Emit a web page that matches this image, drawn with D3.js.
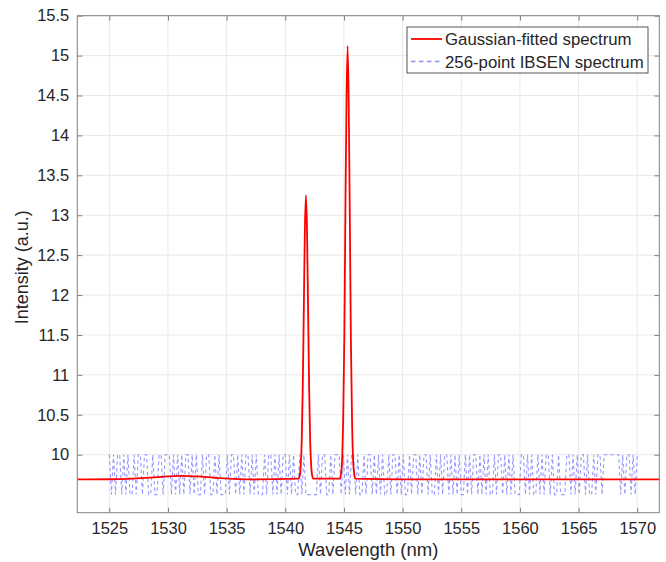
<!DOCTYPE html>
<html>
<head>
<meta charset="utf-8">
<script src="https://cdn.jsdelivr.net/npm/d3@7"></script>
<style>
  body { margin: 0; background: #fff; }
  text { font-family: "Liberation Sans", Arial, Helvetica, sans-serif; fill: #262626; }
</style>
</head>
<body>
<svg id="chart" width="666" height="562"></svg>
<script>
// Axis ranges and tick values
const xDomain = [1522.27, 1571.88];
const yDomain = [9.273, 15.5];
const xTicks = [1525, 1530, 1535, 1540, 1545, 1550, 1555, 1560, 1565, 1570];
const yTicks = [10, 10.5, 11, 11.5, 12, 12.5, 13, 13.5, 14, 14.5, 15, 15.5];

// Gaussian-fitted spectrum (wavelength in nm, intensity in a.u.)
const fitWavelength = [
  1522.27, 1525.0, 1527.0, 1528.5, 1530.0, 1531.2, 1532.5, 1534.0, 1535.5, 1537.0,
  1541.13, 1541.22, 1541.31, 1541.40, 1541.49, 1541.58, 1541.67, 1541.76,
  1541.85, 1541.94, 1542.03, 1542.12, 1542.21, 1542.30, 1542.39,
  1544.65, 1544.74, 1544.84, 1544.93, 1545.03, 1545.12, 1545.22, 1545.31,
  1545.40, 1545.50, 1545.59, 1545.69, 1545.78, 1545.88, 1545.97,
  1550.0, 1560.0, 1571.88
];
const fitIntensity = [
  9.690, 9.692, 9.700, 9.712, 9.728, 9.735, 9.727, 9.710, 9.697, 9.690,
  9.70, 9.73, 9.85, 10.17, 10.85, 11.85, 12.83, 13.25,
  12.83, 11.85, 10.85, 10.17, 9.85, 9.73, 9.70,
  9.70, 9.75, 9.93, 10.42, 11.45, 12.98, 14.48, 15.12,
  14.48, 12.98, 11.45, 10.42, 9.93, 9.75, 9.70,
  9.690, 9.690, 9.690
];

// 256-pixel IBSEN readout, 1525–1570 nm; each pixel is at a low or high level
const ibsenStart = 1525;
const ibsenEnd = 1570;
const ibsenLevels = [9.5, 10];
const ibsenBits = [
  1,0,1,0, 1,1,0,1, 0,1,0,0, 1,0,1,1, 0,1,1,0, 0,1,0,0, 1,1,0,1, 1,1,0,1,
  0,1,0,1, 0,1,1,0, 1,0,1,0, 0,1,0,1, 1,0,0,1, 0,1,0,0, 0,1,0,1, 1,0,1,0,
  1,0,1,1, 0,1,0,1, 0,0,0,1, 0,1,1,0, 1,0,1,0, 1,1,0,1, 0,1,0,0, 1,0,1,0,
  0,0,0,0, 0,1,0,1, 1,0,0,1, 0,1,1,1, 0,1,0,1, 0,1,1,0, 1,0,0,1, 0,1,1,0,
  1,0,1,0, 1,0,0,1, 0,1,1,0, 1,0,1,0, 0,1,0,1, 1,0,1,0, 1,1,0,1, 0,0,1,0,
  1,0,1,1, 0,1,0,1, 0,1,0,0, 1,0,1,0, 1,1,0,1, 0,1,0,1, 0,0,1,0, 1,1,0,1,
  0,1,0,1, 0,0,0,1, 1,0,1,0, 1,0,0,1, 0,1,0,1, 1,0,1,0, 0,1,0,0, 0,1,1,0,
  1,0,1,0, 1,1,0,1, 0,0,1,0, 1,1,0,1, 1,1,1,1, 1,1,1,0, 1,0,1,1, 0,1,0,1
];

const legendLabels = ["Gaussian-fitted spectrum", "256-point IBSEN spectrum"];

// Layout
const plot = { left: 77.3, right: 659.3, top: 15.7, bottom: 512.7 };
const svg = d3.select("#chart");

const x = d3.scaleLinear().domain(xDomain).range([plot.left, plot.right]);
const y = d3.scaleLinear().domain(yDomain).range([plot.bottom, plot.top]);

// Grid
const grid = svg.append("g").attr("stroke", "#e8e8e8").attr("stroke-width", 1);
grid.selectAll("line.gx").data(xTicks).join("line")
  .attr("x1", d => x(d)).attr("x2", d => x(d))
  .attr("y1", plot.top).attr("y2", plot.bottom);
grid.selectAll("line.gy").data(yTicks).join("line")
  .attr("x1", plot.left).attr("x2", plot.right)
  .attr("y1", d => y(d)).attr("y2", d => y(d));

// Clip region for data
svg.append("clipPath").attr("id", "plotclip").append("rect")
  .attr("x", plot.left).attr("y", plot.top)
  .attr("width", plot.right - plot.left).attr("height", plot.bottom - plot.top);

const dataG = svg.append("g").attr("clip-path", "url(#plotclip)");

// IBSEN series
const ibsenStep = (ibsenEnd - ibsenStart) / (ibsenBits.length - 1);
const ibsenData = ibsenBits.map((b, i) => [ibsenStart + i * ibsenStep, ibsenLevels[b]]);
dataG.append("path")
  .datum(ibsenData)
  .attr("fill", "none")
  .attr("stroke", "rgb(125,125,255)")
  .attr("stroke-opacity", 0.8)
  .attr("stroke-width", 1.1)
  .attr("stroke-dasharray", "3.5,3")
  .attr("d", d3.line().x(d => x(d[0])).y(d => y(d[1])));

// Fitted spectrum
const fitData = fitWavelength.map((w, i) => [w, fitIntensity[i]]);
dataG.append("path")
  .datum(fitData)
  .attr("fill", "none")
  .attr("stroke", "#ff0000")
  .attr("stroke-width", 1.8)
  .attr("stroke-linejoin", "round")
  .attr("d", d3.line().x(d => x(d[0])).y(d => y(d[1])).curve(d3.curveMonotoneX));

// Axes (ticks point inward, box on all sides)
const tickLen = 5;
const axisColor = "#808080";
const xAxisB = d3.axisBottom(x).tickValues(xTicks).tickSize(-tickLen).tickPadding(10).tickFormat(d3.format("d"));
const xAxisT = d3.axisTop(x).tickValues(xTicks).tickSize(-tickLen).tickFormat("");
const yFmt = d => (d % 1 === 0 ? String(d) : d.toFixed(1));
const yAxisL = d3.axisLeft(y).tickValues(yTicks).tickSize(-tickLen).tickPadding(8).tickFormat(yFmt);
const yAxisR = d3.axisRight(y).tickValues(yTicks).tickSize(-tickLen).tickFormat("");

function styleAxis(g) {
  g.select(".domain").remove();
  g.selectAll(".tick line").attr("stroke", axisColor);
  g.selectAll(".tick text").attr("font-size", 16.5).attr("fill", "#262626")
    .style("font-family", "'Liberation Sans', Arial, Helvetica, sans-serif");
}
svg.append("g").attr("transform", `translate(0,${plot.bottom})`).call(xAxisB).call(styleAxis);
svg.append("g").attr("transform", `translate(0,${plot.top})`).call(xAxisT).call(styleAxis);
svg.append("g").attr("transform", `translate(${plot.left},0)`).call(yAxisL).call(styleAxis);
svg.append("g").attr("transform", `translate(${plot.right},0)`).call(yAxisR).call(styleAxis);

svg.append("rect")
  .attr("x", plot.left).attr("y", plot.top)
  .attr("width", plot.right - plot.left).attr("height", plot.bottom - plot.top)
  .attr("fill", "none").attr("stroke", axisColor).attr("stroke-width", 1);

// Axis titles
svg.append("text")
  .attr("x", (plot.left + plot.right) / 2).attr("y", 556)
  .attr("text-anchor", "middle").attr("font-size", 18.5)
  .text("Wavelength (nm)");
svg.append("text")
  .attr("transform", `translate(28,${(plot.top + plot.bottom) / 2 + 3}) rotate(-90)`)
  .attr("text-anchor", "middle").attr("font-size", 18)
  .text("Intensity (a.u.)");

// Legend
const lg = svg.append("g").attr("transform", "translate(407,27)");
lg.append("rect").attr("width", 241).attr("height", 46)
  .attr("fill", "#fff").attr("stroke", "#555").attr("stroke-width", 1);
const legendStyles = [
  { stroke: "#ff0000", dash: null, width: 1.8, opacity: 1 },
  { stroke: "rgb(125,125,255)", dash: "4.5,3.5", width: 1.3, opacity: 0.85 }
];
legendLabels.forEach((label, i) => {
  const yy = 12 + i * 22.5;
  lg.append("line").attr("x1", 4).attr("x2", 35).attr("y1", yy).attr("y2", yy)
    .attr("stroke", legendStyles[i].stroke)
    .attr("stroke-width", legendStyles[i].width)
    .attr("stroke-opacity", legendStyles[i].opacity)
    .attr("stroke-dasharray", legendStyles[i].dash);
  lg.append("text").attr("x", 38).attr("y", yy + 6)
    .attr("font-size", 16.8).text(label);
});
</script>
</body>
</html>
